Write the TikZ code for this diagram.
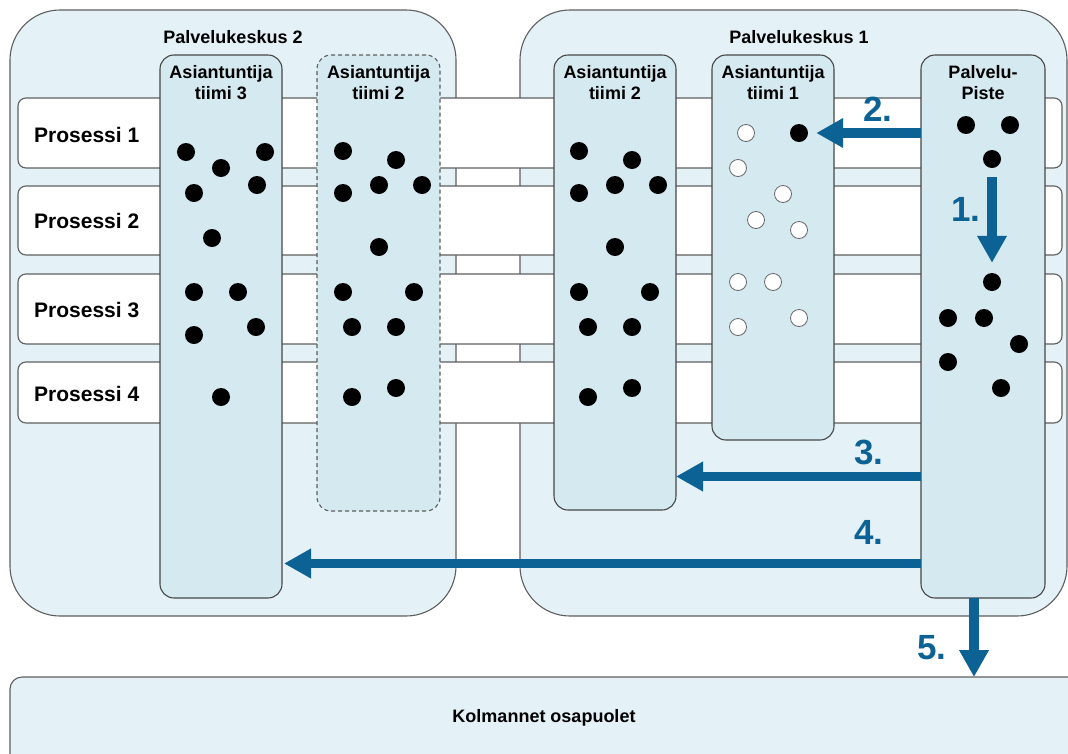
\documentclass[tikz,border=0pt]{standalone}
\usepackage{fontspec}
\setmainfont{Liberation Sans}
\usetikzlibrary{arrows.meta}

\definecolor{hubfill}{HTML}{E4F2F7}
\definecolor{teamfill}{HTML}{D4E9F0}
\definecolor{flowblue}{HTML}{0C6294}
\definecolor{edgegray}{HTML}{5E5E5E}
\definecolor{teamedge}{HTML}{474747}

\begin{document}
\begin{tikzpicture}[x=1pt,y=-1pt,
  box/.style={anchor=north west, inner sep=0pt, outer sep=0pt, rectangle},
  hub/.style={box, draw=edgegray, line width=1.1pt, fill=hubfill, rounded corners=50pt},
  lane/.style={box, draw=edgegray, line width=1.1pt, fill=white, rounded corners=8pt},
  team/.style={box, draw=teamedge, line width=1.1pt, fill=teamfill, rounded corners=14pt},
  dot/.style={circle, inner sep=0pt, minimum size=18pt, fill=black},
  odot/.style={circle, inner sep=0pt, minimum size=17pt, fill=white, draw=gray!80!black, line width=0.8pt},
  hubtitle/.style={anchor=base, inner sep=0pt, font=\fontsize{18}{21}\selectfont\bfseries},
  teamtitle/.style={anchor=north, inner sep=0pt, align=center, font=\fontsize{18}{21.5}\selectfont\bfseries},
  lanetitle/.style={anchor=west, inner sep=0pt, font=\fontsize{21}{24}\selectfont\bfseries},
  steplabel/.style={inner sep=0pt, text=flowblue, font=\fontsize{35}{37}\selectfont\bfseries},
  flow/.style={draw=flowblue, line width=9.5pt, line cap=butt, -{Triangle[length=27pt, width=28pt]}}
]
\useasboundingbox (0,0) rectangle (1068,753);
\clip (0,0) rectangle (1068,753);

% service centres
\node[hub, minimum width=446pt, minimum height=606pt] (pk2) at (10,10) {};
\node[hub, minimum width=547pt, minimum height=606pt] (pk1) at (520,10) {};
\node[hubtitle] (pk2t) at (233,43) {Palvelukeskus 2};
\node[hubtitle] (pk1t) at (799,43) {Palvelukeskus 1};

% process lanes
\node[lane, minimum width=1044pt, minimum height=70pt] (l1) at (18,98) {};
\node[lane, minimum width=1044pt, minimum height=69pt] (l2) at (18,186) {};
\node[lane, minimum width=1044pt, minimum height=70pt] (l3) at (18,274) {};
\node[lane, minimum width=1044pt, minimum height=61pt] (l4) at (18,362) {};
\node[lanetitle] (l1t) at (34,135) {Prosessi 1};
\node[lanetitle] (l2t) at (34,221) {Prosessi 2};
\node[lanetitle] (l3t) at (34,310) {Prosessi 3};
\node[lanetitle] (l4t) at (34,394) {Prosessi 4};

% expert teams and the service point
\node[team, minimum width=122pt, minimum height=543pt] (at3) at (160,55) {};
\node[team, dash pattern=on 4pt off 3pt, draw=edgegray, minimum width=123pt, minimum height=456pt] (at2b) at (317,55) {};
\node[team, minimum width=122pt, minimum height=455pt] (at2) at (554,55) {};
\node[team, minimum width=122pt, minimum height=385pt] (at1) at (712,55) {};
\node[team, minimum width=124pt, minimum height=543pt] (pp) at (921,55) {};

\node[teamtitle] (at3t) at (at3.north |- 0,65) {Asiantuntija\\tiimi 3};
\node[teamtitle] (at2bt) at (at2b.north |- 0,65) {Asiantuntija\\tiimi 2};
\node[teamtitle] (at2t) at (at2.north |- 0,65) {Asiantuntija\\tiimi 2};
\node[teamtitle] (at1t) at (at1.north |- 0,65) {Asiantuntija\\tiimi 1};
\node[teamtitle] (ppt) at (pp.north |- 0,65) {Palvelu-\\Piste};

% cases held by each team
\foreach \x/\y [count=\i] in {186/152,221/168,265/152,194/193,257/185,212/238,
    194/292,238/292,194/335,256/327,221/397}
  \node[dot] (c3-\i) at (\x,\y) {};
\foreach \x/\y [count=\i] in {343/151,396/160,343/193,379/185,422/185,379/247,
    343/292,414/292,352/327,396/327,352/397,396/388}
  \node[dot] (c2b-\i) at (\x,\y) {};
\foreach \x/\y [count=\i] in {579/151,632/160,579/193,615/185,658/185,615/247,
    579/292,650/292,588/327,632/327,588/397,632/388}
  \node[dot] (c2-\i) at (\x,\y) {};
\foreach \x/\y [count=\i] in {746/133,738/168,783/194,756/220,799/230,
    738/282,773/282,738/327,799/318}
  \node[odot] (c1-\i) at (\x,\y) {};
\node[dot] (c1x) at (799,133) {};
\foreach \x/\y [count=\i] in {966/125,1010/125,992/159,992/282,948/318,
    984/318,1019/344,948/362,1001/388}
  \node[dot] (cp-\i) at (\x,\y) {};

% third parties
\node[box, draw=edgegray, line width=1.1pt, fill=hubfill, rounded corners=12pt,
  minimum width=1090pt, minimum height=110pt] (kol) at (10,677) {};
\node[inner sep=0pt, font=\fontsize{18}{22}\selectfont\bfseries] (kolt) at (544,718) {Kolmannet osapuolet};

% flows out of the service point
\coordinate (y3) at (0,476.5);
\coordinate (y4) at (0,563.5);
\coordinate (x5) at (974,0);
\draw[flow, shorten >=8pt] (pp.west |- c1x) -- (c1x.east);
\draw[flow, shorten <=9pt, shorten >=10pt] (cp-3.south) -- (cp-4.north);
\draw[flow] (pp.west |- y3) -- (at2.east |- y3);
\draw[flow] (pp.west |- y4) -- ([xshift=2pt]at3.east |- y4);
\draw[flow] (pp.south -| x5) -- (kol.north -| x5);

\node[steplabel] (s1) at (966,209) {1.};
\node[steplabel] (s2) at (878,109) {2.};
\node[steplabel] (s3) at (869,452) {3.};
\node[steplabel] (s4) at (869,532) {4.};
\node[steplabel] (s5) at (932,648) {5.};
\end{tikzpicture}
\end{document}
